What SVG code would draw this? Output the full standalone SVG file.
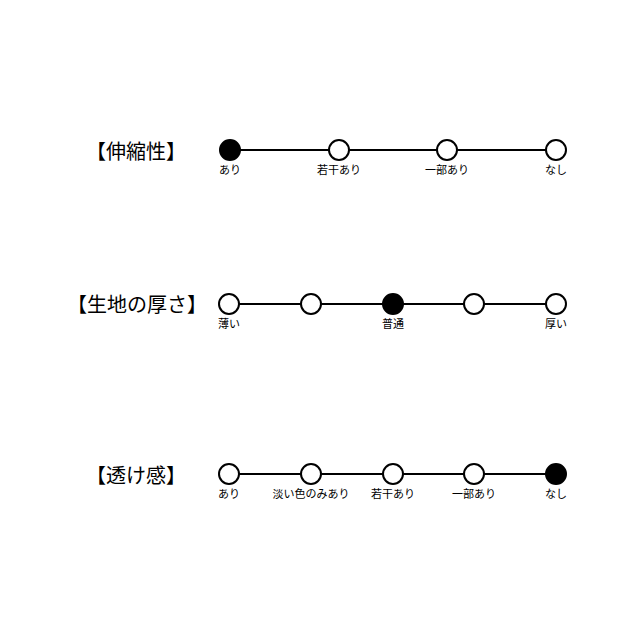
<svg xmlns="http://www.w3.org/2000/svg" width="640" height="640" viewBox="0 0 640 640">
<style>
.title{font-family:"Noto Sans CJK JP","Noto Sans",sans-serif;font-size:20px;fill:#000;text-anchor:middle}
.lbl{font-family:"Noto Sans CJK JP","Noto Sans",sans-serif;font-size:11px;fill:#000;text-anchor:middle}
.ln{stroke:#000;stroke-width:2;fill:none}
.o{fill:#fff;stroke:#000;stroke-width:2}
.f{fill:#000;stroke:#000;stroke-width:2}
</style>
<rect width="640" height="640" fill="#fff"/>
<g id="connectors">
<line class="ln" x1="230" y1="150" x2="556" y2="150"/>
<line class="ln" x1="229" y1="304" x2="556" y2="304"/>
<line class="ln" x1="229" y1="474" x2="556" y2="474"/>
</g>
<g id="row1">
<text class="title" x="136" y="159">【伸縮性】</text>
<g id="r1n1"><circle class="f" cx="230" cy="150" r="10"/><text class="lbl" x="230" y="174">あり</text></g>
<g id="r1n2"><circle class="o" cx="339" cy="150" r="10"/><text class="lbl" x="339" y="174">若干あり</text></g>
<g id="r1n3"><circle class="o" cx="447" cy="150" r="10"/><text class="lbl" x="447" y="174">一部あり</text></g>
<g id="r1n4"><circle class="o" cx="556" cy="150" r="10"/><text class="lbl" x="556" y="174">なし</text></g>
</g>
<g id="row2">
<text class="title" x="137" y="312">【生地の厚さ】</text>
<g id="r2n1"><circle class="o" cx="229" cy="304" r="10"/><text class="lbl" x="229" y="328">薄い</text></g>
<g id="r2n2"><circle class="o" cx="311" cy="304" r="10"/></g>
<g id="r2n3"><circle class="f" cx="393" cy="304" r="10"/><text class="lbl" x="393" y="328">普通</text></g>
<g id="r2n4"><circle class="o" cx="474" cy="304" r="10"/></g>
<g id="r2n5"><circle class="o" cx="556" cy="304" r="10"/><text class="lbl" x="556" y="328">厚い</text></g>
</g>
<g id="row3">
<text class="title" x="136" y="483">【透け感】</text>
<g id="r3n1"><circle class="o" cx="229" cy="474" r="10"/><text class="lbl" x="229" y="498">あり</text></g>
<g id="r3n2"><circle class="o" cx="311" cy="474" r="10"/><text class="lbl" x="311" y="498">淡い色のみあり</text></g>
<g id="r3n3"><circle class="o" cx="393" cy="474" r="10"/><text class="lbl" x="393" y="498">若干あり</text></g>
<g id="r3n4"><circle class="o" cx="474" cy="474" r="10"/><text class="lbl" x="474" y="498">一部あり</text></g>
<g id="r3n5"><circle class="f" cx="556" cy="474" r="10"/><text class="lbl" x="556" y="498">なし</text></g>
</g>
</svg>
